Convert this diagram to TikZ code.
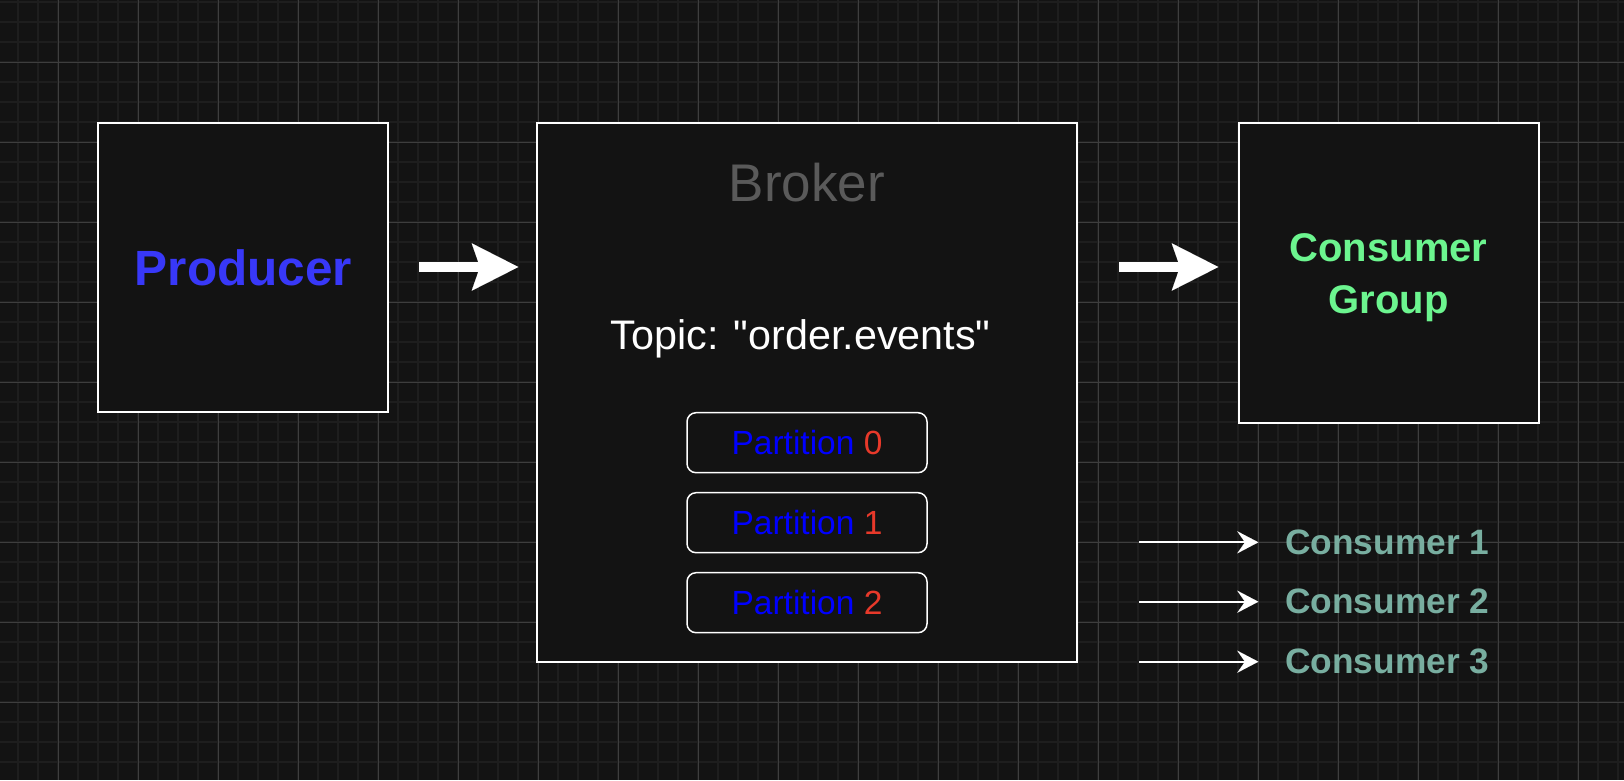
\documentclass[tikz,border=0pt]{standalone}
\usepackage{fontspec}
\setmainfont{Liberation Sans}
% same face without TeX ligature mapping, so that " stays a straight quote
\newfontfamily\plainquotes{Liberation Sans}
\usetikzlibrary{arrows.meta}

\definecolor{canvas}{HTML}{131313}
\definecolor{gridminor}{HTML}{1E1E1E}
\definecolor{gridmajor}{HTML}{3E3E3E}
\definecolor{producerblue}{HTML}{3838F8}
\definecolor{brokergray}{HTML}{5A5A5A}
\definecolor{groupgreen}{HTML}{6CF58F}
\definecolor{consumerteal}{HTML}{78AEA0}
\definecolor{partblue}{HTML}{0000FF}
\definecolor{partred}{HTML}{E8392A}

\tikzset{
  panel/.style={draw=white, line width=2pt, fill=canvas, inner sep=0pt},
  partbox/.style={draw=white, line width=1.5pt, fill=canvas, rounded corners=9pt,
    minimum width=240pt, minimum height=60pt, inner sep=0pt,
    font=\fontsize{33.5pt}{40pt}\selectfont},
  bigarrow/.style={white, line width=9.4pt,
    -{Stealth[length=46.6pt, width=47.4pt, inset=8.3pt, line width=0.01pt]}},
  smallarrow/.style={white, line width=2pt,
    -{Stealth[length=21pt, width=22pt, inset=7.7pt, line width=0.01pt]}},
  consumerlabel/.style={anchor=west, inner sep=0pt, text=consumerteal,
    font=\fontsize{35.3pt}{42pt}\selectfont\bfseries},
}

\begin{document}
\begin{tikzpicture}[x=1pt, y=-1pt]
\useasboundingbox (0,0) rectangle (1624,780);
\fill[canvas] (0,0) rectangle (1624,780);

% background grid: fine lines every 20, heavier lines every 80
\foreach \gx in {18,38,...,1618} \draw[gridminor, line width=2pt] (\gx,0) -- (\gx,780);
\foreach \gy in {2,22,...,762} \draw[gridminor, line width=2pt] (0,\gy) -- (1624,\gy);
\foreach \gx in {58,138,...,1578} \draw[gridmajor, line width=1pt] (\gx,0) -- (\gx,780);
\foreach \gy in {62,142,...,702} \draw[gridmajor, line width=1pt] (0,\gy) -- (1624,\gy);

% producer
\node[panel, minimum width=290pt, minimum height=289pt,
      text=producerblue, font=\fontsize{49.5pt}{59pt}\selectfont\bfseries]
  (producer) at (243.4,267.8) {Producer};

% broker with its topic and partitions
\node[panel, minimum width=540.6pt, minimum height=538.5pt] (broker) at (806.8,392.5) {};
\node[text=brokergray, inner sep=0pt, font=\fontsize{53pt}{64pt}\selectfont]
  (brokertitle) at (806.7,183) {Broker};
\node[anchor=base, text=white, inner sep=0pt, font=\plainquotes\fontsize{41.3pt}{50pt}\selectfont]
  (topic) at (800.6,349) {Topic: "order.events"};
\node[partbox] (part0) at (807,442.7) {\textcolor{partblue}{Partition} \textcolor{partred}{0}};
\node[partbox] (part1) at (807,522.7) {\textcolor{partblue}{Partition} \textcolor{partred}{1}};
\node[partbox] (part2) at (807,602.7) {\textcolor{partblue}{Partition} \textcolor{partred}{2}};

% consumer group
\node[panel, minimum width=300pt, minimum height=299.3pt] (group) at (1388.9,273) {};
\node[align=center, inner sep=0pt, text=groupgreen,
      font=\fontsize{40pt}{51.7pt}\selectfont\bfseries]
  (grouptitle) at (1388.5,277.4) {Consumer\\Group};

% flow arrows between the boxes
\coordinate (pa) at (419,267);
\coordinate (pb) at (518.3,267);
\coordinate (ga) at (1119,267);
\coordinate (gb) at (1218.3,267);
\draw[bigarrow] (pa) -- (pb);
\draw[bigarrow] (ga) -- (gb);

% individual consumers
\node[consumerlabel] (cons1) at (1285,542.3) {Consumer 1};
\node[consumerlabel] (cons2) at (1285,601.7) {Consumer 2};
\node[consumerlabel] (cons3) at (1285,661.7) {Consumer 3};
\coordinate (s1) at (1139,542.3);
\coordinate (s2) at (1139,601.7);
\coordinate (s3) at (1139,661.7);
\draw[smallarrow, shorten >=26.7pt] (s1) -- (cons1.west);
\draw[smallarrow, shorten >=26.7pt] (s2) -- (cons2.west);
\draw[smallarrow, shorten >=26.7pt] (s3) -- (cons3.west);
\end{tikzpicture}
\end{document}
